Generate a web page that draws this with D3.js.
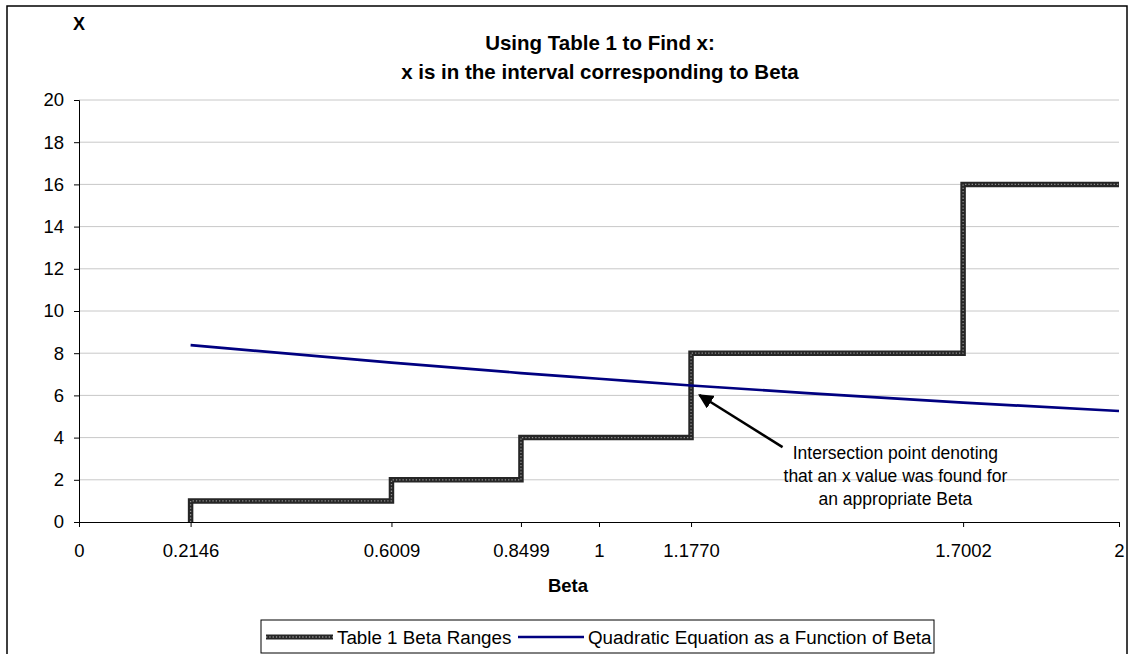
<!DOCTYPE html>
<html>
<head>
<meta charset="utf-8">
<script src="https://cdn.jsdelivr.net/npm/d3@7"></script>
<style>
  body { margin: 0; background: #fff; }
  text { font-family: Arial, "Liberation Sans", sans-serif; }
</style>
</head>
<body>
<div id="chart-area"></div>
<script>
var width = 1130,
    height = 654;

// Table 1: Beta breakpoints and the x value for each interval
var stepBeta = [0.2146, 0.2146, 0.6009, 0.8499, 1.1770, 1.7002, 2];
var stepX    = [0,      1,      2,      4,      8,      16,     16];

// quadratic equation as a function of Beta
var quadBeta = [0.2146, 0.6009, 0.8499, 1.0, 1.1770, 1.4, 1.7002, 2];
var quadX    = [8.38,   7.55,   7.06,   6.79, 6.47,  6.11, 5.66,  5.26];

var xTicks = [0, 0.2146, 0.6009, 0.8499, 1, 1.1770, 1.7002, 2];
var xTickLabels = ["0", "0.2146", "0.6009", "0.8499", "1", "1.1770", "1.7002", "2"];
var yTicks = [0, 2, 4, 6, 8, 10, 12, 14, 16, 18, 20];

var seriesNames = ["Table 1 Beta Ranges", "Quadratic Equation as a Function of Beta"];
var noteLines = ["Intersection point denoting", "that an x value was found for", "an appropriate Beta"];

var svg = d3.select("#chart-area").append("svg")
    .attr("width", width)
    .attr("height", height);

// outer chart border
svg.append("rect")
    .attr("x", 7).attr("y", 6)
    .attr("width", 1120).attr("height", 720)
    .attr("fill", "none")
    .attr("stroke", "#000")
    .attr("stroke-width", 1.5);

var x = d3.scaleLinear().domain([0, 2]).range([79, 1119]);
var y = d3.scaleLinear().domain([0, 20]).range([522, 100]);

// gridlines
svg.selectAll(".grid")
    .data(yTicks.filter(d => d > 0))
    .enter().append("line")
    .attr("class", "grid")
    .attr("x1", x(0)).attr("x2", x(2))
    .attr("y1", d => y(d)).attr("y2", d => y(d))
    .attr("stroke", "#c8c8c8")
    .attr("stroke-width", 1);

// y axis
var yAxis = svg.append("g")
    .attr("transform", "translate(" + x(0) + ",0)")
    .call(d3.axisLeft(y).tickValues(yTicks).tickSize(5).tickPadding(10).tickFormat(d3.format("d")));

// x axis
var xAxis = svg.append("g")
    .attr("transform", "translate(0," + y(0) + ")")
    .call(d3.axisBottom(x).tickValues(xTicks).tickSize(5).tickPadding(17)
        .tickFormat((d, i) => xTickLabels[i]));

[yAxis, xAxis].forEach(function(ax) {
    ax.select(".domain").attr("stroke", "#000").attr("stroke-width", 1);
    ax.selectAll(".tick line").attr("stroke", "#000");
    ax.selectAll(".tick text")
        .attr("fill", "#000")
        .style("font-size", "18.5px")
        .style("font-family", "Arial, 'Liberation Sans', sans-serif");
});

// step line (textured)
var stepData = stepBeta.map((b, i) => [b, stepX[i]]);
var stepLine = d3.line()
    .x(d => x(d[0]))
    .y(d => y(d[1]))
    .curve(d3.curveStepAfter);

svg.append("path")
    .datum(stepData)
    .attr("d", stepLine)
    .attr("fill", "none")
    .attr("stroke", "#262626")
    .attr("stroke-width", 5.5);

svg.append("path")
    .datum(stepData)
    .attr("d", stepLine)
    .attr("fill", "none")
    .attr("stroke", "#8f8f8f")
    .attr("stroke-width", 1.3)
    .attr("stroke-dasharray", "1.3,2");

// quadratic curve
var quadData = quadBeta.map((b, i) => [b, quadX[i]]);
svg.append("path")
    .datum(quadData)
    .attr("d", d3.line().x(d => x(d[0])).y(d => y(d[1])).curve(d3.curveMonotoneX))
    .attr("fill", "none")
    .attr("stroke", "#000080")
    .attr("stroke-width", 2.7);

// annotation arrow
svg.append("defs").append("marker")
    .attr("id", "arrow")
    .attr("viewBox", "0 0 10 10")
    .attr("refX", 9).attr("refY", 5)
    .attr("markerWidth", 6).attr("markerHeight", 6)
    .attr("markerUnits", "strokeWidth")
    .attr("orient", "auto")
    .append("path")
    .attr("d", "M0,0 L10,5 L0,10 Z")
    .attr("fill", "#000");

svg.append("line")
    .attr("x1", x(1.353)).attr("y1", y(3.55))
    .attr("x2", x(1.193)).attr("y2", y(6.02))
    .attr("stroke", "#000")
    .attr("stroke-width", 2.5)
    .attr("marker-end", "url(#arrow)");

svg.append("g").selectAll("text")
    .data(noteLines)
    .enter().append("text")
    .attr("x", x(1.57))
    .attr("y", (d, i) => y(3.25) + 6 + i * 23)
    .attr("text-anchor", "middle")
    .style("font-size", "17.5px")
    .text(d => d);

// titles
svg.append("text")
    .attr("x", 600).attr("y", 50)
    .attr("text-anchor", "middle")
    .style("font-size", "20.5px").style("font-weight", "bold")
    .text("Using Table 1 to Find x:");
svg.append("text")
    .attr("x", 600).attr("y", 79)
    .attr("text-anchor", "middle")
    .style("font-size", "20.5px").style("font-weight", "bold")
    .text("x is in the interval corresponding to Beta");

svg.append("text")
    .attr("x", 79).attr("y", 30)
    .attr("text-anchor", "middle")
    .style("font-size", "18px").style("font-weight", "bold")
    .text("X");

svg.append("text")
    .attr("x", 568).attr("y", 592)
    .attr("text-anchor", "middle")
    .style("font-size", "18.5px").style("font-weight", "bold")
    .text("Beta");

// legend
var legend = svg.append("g");
legend.append("rect")
    .attr("x", 261).attr("y", 620)
    .attr("width", 673).attr("height", 33)
    .attr("fill", "#fff")
    .attr("stroke", "#000")
    .attr("stroke-width", 1);

var ly = 637;
legend.append("line")
    .attr("x1", 266).attr("x2", 333).attr("y1", ly).attr("y2", ly)
    .attr("stroke", "#262626").attr("stroke-width", 5);
legend.append("line")
    .attr("x1", 266).attr("x2", 333).attr("y1", ly).attr("y2", ly)
    .attr("stroke", "#8f8f8f").attr("stroke-width", 1.3).attr("stroke-dasharray", "1.3,2");
legend.append("text")
    .attr("x", 337).attr("y", ly + 6.5)
    .style("font-size", "18.8px")
    .text(seriesNames[0]);

legend.append("line")
    .attr("x1", 518).attr("x2", 584).attr("y1", ly).attr("y2", ly)
    .attr("stroke", "#000080").attr("stroke-width", 2.7);
legend.append("text")
    .attr("x", 588).attr("y", ly + 6.5)
    .style("font-size", "18.8px")
    .text(seriesNames[1]);
</script>
</body>
</html>
